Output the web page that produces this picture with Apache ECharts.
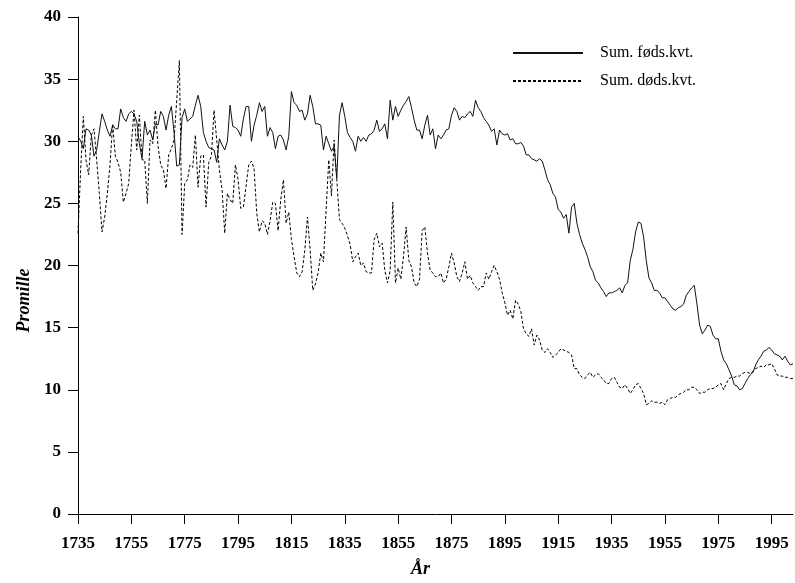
<!DOCTYPE html>
<html>
<head>
<meta charset="utf-8">
<script src="https://cdn.jsdelivr.net/npm/echarts@6/dist/echarts.min.js"></script>
<style>
  html, body { margin: 0; padding: 0; background: #fff; }
  #chart { width: 795px; height: 583px; }
</style>
</head>
<body>
<div id="chart"></div>
<script>
const firstYear = 1735;
const xTicks = [1735, 1755, 1775, 1795, 1815, 1835, 1855, 1875, 1895, 1915, 1935, 1955, 1975, 1995];

// one value per year, 1735-2003 (promille)
const births = [
  30.4, 30.0, 29.4, 31.0, 30.9, 30.5, 28.8, 29.3, 30.8, 32.2, // 1735
  31.6, 30.9, 30.4, 31.3, 31.0, 31.0, 32.6, 31.9, 31.6, 32.2, // 1745
  32.4, 32.2, 31.6, 29.8, 28.6, 31.6, 30.5, 30.9, 30.1, 31.4, // 1755
  31.3, 32.4, 32.0, 30.9, 32.1, 32.8, 30.7, 28.0, 28.1, 31.9, // 1765
  32.6, 31.6, 31.8, 32.0, 32.9, 33.7, 32.8, 30.7, 30.0, 29.5, // 1775
  29.4, 29.3, 28.3, 30.2, 29.7, 29.3, 30.0, 32.9, 31.2, 31.1, // 1785
  30.9, 30.4, 31.8, 32.8, 32.8, 30.0, 31.3, 32.1, 33.1, 32.4, // 1795
  32.8, 30.4, 31.1, 30.7, 29.4, 30.4, 30.5, 30.1, 29.3, 30.4, // 1805
  34.0, 33.1, 32.9, 32.4, 32.5, 31.7, 32.2, 33.7, 32.8, 31.4, // 1815
  31.4, 31.3, 29.3, 30.4, 29.8, 29.2, 29.6, 27.0, 32.1, 33.1, // 1825
  32.0, 30.7, 30.3, 30.0, 29.2, 30.4, 30.0, 30.3, 30.0, 30.5, // 1835
  30.6, 30.9, 31.7, 30.8, 31.0, 31.4, 30.2, 33.3, 31.7, 32.8, // 1845
  32.0, 32.5, 32.9, 33.2, 33.6, 32.7, 31.7, 30.9, 30.9, 30.2, // 1855
  31.3, 32.1, 30.5, 31.0, 29.4, 30.5, 30.2, 30.5, 30.9, 31.0, // 1865
  32.1, 32.7, 32.4, 31.7, 32.0, 31.9, 32.2, 32.4, 32.0, 33.3, // 1875
  32.7, 32.4, 31.9, 31.6, 31.3, 30.8, 31.0, 29.7, 30.9, 30.6, // 1885
  30.5, 30.6, 30.1, 30.2, 29.8, 29.8, 29.9, 29.6, 28.9, 28.9, // 1895
  28.6, 28.5, 28.4, 28.6, 28.4, 27.7, 26.9, 26.5, 25.8, 25.5, // 1905
  24.5, 24.3, 23.8, 24.1, 22.6, 24.7, 25.0, 23.4, 22.5, 21.8, // 1915
  21.3, 20.7, 19.9, 19.5, 18.8, 18.6, 18.2, 17.9, 17.5, 17.8, // 1925
  17.8, 17.9, 18.0, 18.2, 17.8, 18.4, 18.6, 20.4, 21.3, 22.7, // 1935
  23.5, 23.4, 22.3, 20.4, 19.0, 18.6, 18.0, 18.0, 17.8, 17.4, // 1945
  17.4, 17.1, 16.8, 16.5, 16.4, 16.6, 16.7, 16.9, 17.6, 17.9, // 1955
  18.2, 18.4, 16.9, 15.2, 14.5, 14.8, 15.2, 15.1, 14.4, 14.1, // 1965
  14.1, 13.1, 12.4, 12.1, 11.6, 11.1, 10.4, 10.3, 10.0, 10.1, // 1975
  10.5, 10.9, 11.2, 11.4, 12.0, 12.4, 12.7, 13.1, 13.2, 13.4, // 1985
  13.2, 12.9, 12.8, 12.7, 12.4, 12.7, 12.3, 12.0, 12.1        // 1995
];

const deaths = [
  22.6, 27.7, 32.0, 28.5, 27.3, 30.5, 31.0, 28.5, 25.8, 22.7, // 1735
  23.9, 25.8, 28.1, 31.4, 28.8, 28.3, 27.5, 25.1, 25.8, 26.6, // 1745
  29.7, 32.5, 29.3, 32.1, 28.5, 28.5, 25.0, 30.1, 29.8, 32.5, // 1755
  29.6, 28.1, 27.7, 26.2, 28.9, 29.4, 30.1, 33.3, 36.5, 22.5, // 1765
  26.6, 26.9, 28.1, 27.9, 30.5, 26.3, 28.8, 28.9, 24.7, 28.3, // 1775
  28.8, 32.5, 30.1, 27.7, 26.1, 22.6, 25.8, 25.3, 25.0, 28.1, // 1785
  26.9, 24.6, 24.7, 26.4, 28.1, 28.4, 27.8, 24.2, 22.7, 23.6, // 1795
  23.4, 22.5, 23.6, 25.1, 25.0, 22.8, 25.3, 26.9, 23.4, 24.3, // 1805
  22.1, 20.7, 19.4, 19.1, 19.5, 21.2, 23.9, 21.3, 18.0, 18.5, // 1815
  19.4, 21.0, 20.3, 24.5, 28.5, 25.6, 30.1, 26.9, 23.7, 23.4, // 1825
  23.0, 22.4, 21.7, 20.3, 20.7, 21.0, 20.0, 20.2, 19.5, 19.4, // 1835
  19.4, 22.1, 22.6, 21.5, 21.8, 19.6, 18.6, 19.6, 25.1, 18.6, // 1845
  19.8, 18.9, 20.7, 23.1, 20.4, 19.9, 18.6, 18.3, 18.9, 22.8, // 1855
  23.1, 21.0, 19.6, 19.4, 19.1, 19.1, 19.4, 18.6, 18.9, 19.9, // 1865
  21.0, 20.2, 19.1, 18.7, 19.4, 20.3, 18.9, 19.2, 18.6, 18.3, // 1875
  18.0, 18.3, 18.3, 19.4, 18.9, 19.5, 20.0, 19.5, 18.9, 17.8, // 1885
  17.0, 16.0, 16.4, 15.7, 17.2, 16.9, 16.3, 14.9, 14.5, 14.3, // 1895
  14.9, 13.6, 14.4, 14.0, 13.2, 13.0, 13.3, 13.0, 12.6, 12.8, // 1905
  13.0, 13.3, 13.2, 13.1, 13.0, 12.8, 11.7, 11.7, 11.2, 11.0, // 1915
  10.9, 11.2, 11.4, 11.0, 11.2, 11.3, 11.0, 10.8, 10.5, 10.5, // 1925
  10.9, 11.0, 10.6, 10.2, 10.1, 10.4, 10.1, 9.7, 10.0, 10.4,  // 1935
  10.5, 10.1, 9.7, 8.8, 8.9, 9.1, 9.0, 9.0, 8.9, 9.0,         // 1945
  8.8, 9.2, 9.3, 9.4, 9.4, 9.6, 9.7, 9.8, 10.0, 10.0,         // 1955
  10.2, 10.2, 10.0, 9.7, 9.8, 9.8, 10.0, 10.1, 10.1, 10.2,    // 1965
  10.4, 10.5, 10.0, 10.5, 10.9, 11.0, 11.0, 11.1, 11.1, 11.3, // 1975
  11.4, 11.4, 11.3, 11.5, 11.7, 11.8, 11.9, 11.8, 12.0, 12.0, // 1985
  12.1, 11.7, 11.2, 11.1, 11.1, 11.0, 11.0, 10.9, 10.9        // 1995
];

const toPairs = (arr) => arr.map((v, i) => [firstYear + i, v]);

const serif = '"Liberation Serif", "Times New Roman", serif';

const chart = echarts.init(document.getElementById('chart'), null, { renderer: 'canvas' });

chart.setOption({
  animation: false,
  backgroundColor: '#fff',
  textStyle: { fontFamily: serif, color: '#000' },
  grid: { left: 78, right: 2, top: 17, bottom: 69, containLabel: false },
  legend: {
    orient: 'vertical',
    left: 507,
    top: 40,
    itemWidth: 70,
    itemHeight: 14,
    itemGap: 12,
    itemStyle: { opacity: 0 },
    textStyle: { fontFamily: serif, fontSize: 16, color: '#000', padding: [0, 0, 0, 12] },
    data: ['Sum. føds.kvt.', 'Sum. døds.kvt.']
  },
  xAxis: {
    type: 'value',
    min: 1735,
    max: 2003,
    interval: 20,
    name: 'År',
    nameLocation: 'middle',
    nameGap: 46,
    nameTextStyle: { fontFamily: serif, fontSize: 18, fontWeight: 'bold', fontStyle: 'italic', color: '#000', padding: [0, 30, 0, 0] },
    splitLine: { show: false },
    axisLine: { onZero: false, lineStyle: { color: '#000', width: 1 } },
    axisTick: { show: true, length: 10, lineStyle: { color: '#000' }, customValues: xTicks },
    axisLabel: {
      margin: 21, fontFamily: serif, fontSize: 17, fontWeight: 'bold', color: '#000',
      customValues: xTicks,
      formatter: (v) => String(v)
    }
  },
  yAxis: {
    type: 'value',
    min: 0,
    max: 40,
    interval: 5,
    name: 'Promille',
    nameLocation: 'middle',
    nameGap: 45,
    nameTextStyle: { fontFamily: serif, fontSize: 18, fontWeight: 'bold', fontStyle: 'italic', color: '#000', padding: [0, 70, 0, 0] },
    splitLine: { show: false },
    axisLine: { show: true, lineStyle: { color: '#000', width: 1 } },
    axisTick: { show: true, length: 10, lineStyle: { color: '#000' } },
    axisLabel: { margin: 17, fontFamily: serif, fontSize: 17, fontWeight: 'bold', color: '#000' }
  },
  series: [
    {
      name: 'Sum. føds.kvt.',
      type: 'line',
      symbol: 'none',
      data: toPairs(births),
      lineStyle: { color: '#111', width: 1, type: 'solid' },
      itemStyle: { color: '#111' },
      z: 3
    },
    {
      name: 'Sum. døds.kvt.',
      type: 'line',
      symbol: 'none',
      data: toPairs(deaths),
      lineStyle: { color: '#000', width: 1, type: [3, 2] },
      itemStyle: { color: '#000' },
      z: 2
    }
  ]
});
</script>
</body>
</html>
